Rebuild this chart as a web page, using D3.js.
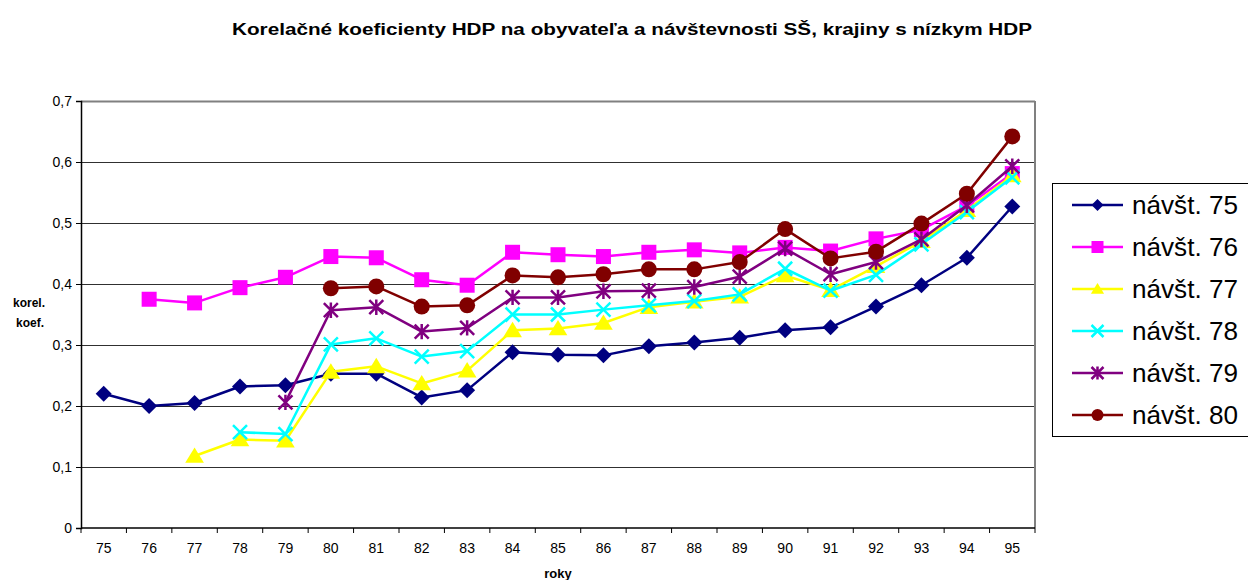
<!DOCTYPE html>
<html>
<head>
<meta charset="utf-8">
<script src="https://cdn.jsdelivr.net/npm/d3@7"></script>
<style>
  html, body { margin: 0; padding: 0; background: #fff; }
  svg { display: block; font-family: "Liberation Sans", Arial, sans-serif; }
</style>
</head>
<body>
<svg id="chart" width="1248" height="580"></svg>
<script>
const title = "Korelačné koeficienty HDP na obyvateľa a návštevnosti SŠ, krajiny s nízkym HDP";
const years = ["75","76","77","78","79","80","81","82","83","84","85","86","87","88","89","90","91","92","93","94","95"];
const yTickValues = [0, 0.1, 0.2, 0.3, 0.4, 0.5, 0.6, 0.7];
const yTickLabels = ["0", "0,1", "0,2", "0,3", "0,4", "0,5", "0,6", "0,7"];
const seriesNames = ["návšt. 75", "návšt. 76", "návšt. 77", "návšt. 78", "návšt. 79", "návšt. 80"];
const seriesColors = ["#000080", "#FF00FF", "#FFFF00", "#00FFFF", "#800080", "#800000"];
const seriesMarkers = ["diamond", "square", "triangle", "x", "star", "circle"];

const s75 = [0.220,0.200,0.205,0.232,0.234,0.253,0.253,0.214,0.226,0.288,0.284,0.283,0.298,0.304,0.312,0.324,0.329,0.363,0.398,0.443,0.527];
const s76 = [null,0.375,0.369,0.394,0.411,0.445,0.443,0.407,0.398,0.452,0.448,0.445,0.452,0.456,0.451,0.460,0.454,0.474,0.489,0.528,0.581];
const s77 = [null,null,0.118,0.145,0.143,0.256,0.265,0.237,0.258,0.324,0.327,0.336,0.362,0.371,0.379,0.414,0.390,0.429,0.470,0.521,0.578];
const s78 = [null,null,null,0.157,0.154,0.301,0.311,0.281,0.290,0.350,0.350,0.358,0.365,0.372,0.383,0.425,0.389,0.415,0.465,0.518,0.575];
const s79 = [null,null,null,null,0.206,0.357,0.362,0.322,0.328,0.378,0.378,0.388,0.389,0.395,0.412,0.458,0.416,0.436,0.473,0.529,0.593];
const s80 = [null,null,null,null,null,0.393,0.396,0.363,0.365,0.414,0.411,0.416,0.424,0.424,0.436,0.490,0.442,0.453,0.499,0.548,0.642];
const seriesValues = [s75, s76, s77, s78, s79, s80];

const svg = d3.select("#chart");
const plot = { left: 81, right: 1035, top: 101, bottom: 528 };

const x = d3.scaleBand().domain(years).range([plot.left, plot.right]).padding(0);
const y = d3.scaleLinear().domain([0, 0.7]).range([plot.bottom, plot.top]);
const cx = d => x(d) + x.bandwidth() / 2;

// Title
svg.append("text")
  .attr("x", 632).attr("y", 35)
  .attr("text-anchor", "middle")
  .attr("font-weight", "bold").attr("font-size", 16)
  .attr("textLength", 800).attr("lengthAdjust", "spacingAndGlyphs")
  .text(title);

// Gridlines
svg.append("g").selectAll("line").data(yTickValues.slice(1)).join("line")
  .attr("x1", plot.left).attr("x2", plot.right)
  .attr("y1", d => Math.round(y(d)) + 0.5).attr("y2", d => Math.round(y(d)) + 0.5)
  .attr("stroke", d => d === 0.7 ? "#808080" : "#303030")
  .attr("stroke-width", d => d === 0.7 ? 2 : 1);

// Right border
svg.append("line")
  .attr("x1", plot.right).attr("x2", plot.right)
  .attr("y1", plot.top).attr("y2", plot.bottom)
  .attr("stroke", "#808080").attr("stroke-width", 2);

// Y axis
const yAxis = d3.axisLeft(y).tickValues(yTickValues)
  .tickFormat((d, i) => yTickLabels[i]).tickSize(5).tickPadding(4);
const gy = svg.append("g").attr("transform", `translate(${plot.left},0)`).call(yAxis);
gy.select(".domain").attr("stroke", "#000").attr("stroke-width", 1.5);
gy.selectAll(".tick line").attr("stroke", "#000");
gy.selectAll("text").attr("font-size", 14).attr("fill", "#000")
  .attr("font-family", "Liberation Sans, Arial, sans-serif");

// X axis: labels at centers, ticks at band boundaries
const gx = svg.append("g").attr("transform", `translate(0,${plot.bottom})`);
gx.append("line").attr("x1", plot.left).attr("x2", plot.right)
  .attr("y1", 0).attr("y2", 0).attr("stroke", "#000").attr("stroke-width", 1.5);
const boundaries = years.map(d => x(d)).concat([plot.right]);
gx.selectAll("line.tk").data(boundaries).join("line").attr("class", "tk")
  .attr("x1", d => d).attr("x2", d => d).attr("y1", 0).attr("y2", 5)
  .attr("stroke", "#000");
gx.selectAll("text").data(years).join("text")
  .attr("x", d => cx(d)).attr("y", 25)
  .attr("text-anchor", "middle").attr("font-size", 14).text(d => d);

// Axis titles
svg.append("text").attr("x", 29).attr("y", 307).attr("text-anchor", "middle")
  .attr("font-weight", "bold").attr("font-size", 12).text("korel.");
svg.append("text").attr("x", 30).attr("y", 327).attr("text-anchor", "middle")
  .attr("font-weight", "bold").attr("font-size", 12).text("koef.");
svg.append("text").attr("x", 558).attr("y", 578).attr("text-anchor", "middle")
  .attr("font-weight", "bold").attr("font-size", 13).text("roky");

// Marker drawing
function drawMarker(g, type, color, s) {
  if (type === "diamond") {
    g.append("path").attr("d", `M0,${-s}L${s},0L0,${s}L${-s},0Z`).attr("fill", color);
  } else if (type === "square") {
    g.append("rect").attr("x", -s).attr("y", -s).attr("width", 2 * s).attr("height", 2 * s).attr("fill", color);
  } else if (type === "triangle") {
    g.append("path").attr("d", `M0,${-s}L${s * 1.1},${s * 0.8}L${-s * 1.1},${s * 0.8}Z`).attr("fill", color);
  } else if (type === "x") {
    g.append("path").attr("d", `M${-s},${-s}L${s},${s}M${-s},${s}L${s},${-s}`)
      .attr("stroke", color).attr("stroke-width", 2.5).attr("fill", "none");
  } else if (type === "star") {
    g.append("path").attr("d", `M${-s},${-s}L${s},${s}M${-s},${s}L${s},${-s}M0,${-s * 1.1}L0,${s * 1.1}`)
      .attr("stroke", color).attr("stroke-width", 2.5).attr("fill", "none");
  } else if (type === "circle") {
    g.append("circle").attr("r", s).attr("fill", color);
  }
}
const markerSize = { diamond: 8, square: 7.5, triangle: 8.5, x: 7, star: 7, circle: 8 };

// Series
const line = d3.line().defined(d => d.v !== null).x(d => cx(d.year)).y(d => y(d.v));
seriesValues.forEach((vals, i) => {
  const data = years.map((yr, j) => ({ year: yr, v: vals[j] }));
  const g = svg.append("g");
  g.append("path").datum(data).attr("d", line)
    .attr("fill", "none").attr("stroke", seriesColors[i]).attr("stroke-width", 2.5)
    .attr("stroke-linejoin", "round");
  data.filter(d => d.v !== null).forEach(d => {
    const mg = g.append("g").attr("transform", `translate(${cx(d.year)},${y(d.v)})`);
    drawMarker(mg, seriesMarkers[i], seriesColors[i], markerSize[seriesMarkers[i]]);
  });
});

// Legend
const legend = svg.append("g");
legend.append("rect").attr("x", 1052.5).attr("y", 183.5).attr("width", 220).attr("height", 253)
  .attr("fill", "#fff").attr("stroke", "#000").attr("stroke-width", 1);
seriesNames.forEach((name, i) => {
  const ly = 205 + i * 42;
  legend.append("line").attr("x1", 1072).attr("x2", 1123).attr("y1", ly).attr("y2", ly)
    .attr("stroke", seriesColors[i]).attr("stroke-width", 2.5);
  const mg = legend.append("g").attr("transform", `translate(1097.5,${ly})`);
  drawMarker(mg, seriesMarkers[i], seriesColors[i], 6);
  legend.append("text").attr("x", 1132).attr("y", ly + 9).attr("font-size", 25)
    .attr("textLength", 106).attr("lengthAdjust", "spacingAndGlyphs").text(name);
});
</script>
</body>
</html>
